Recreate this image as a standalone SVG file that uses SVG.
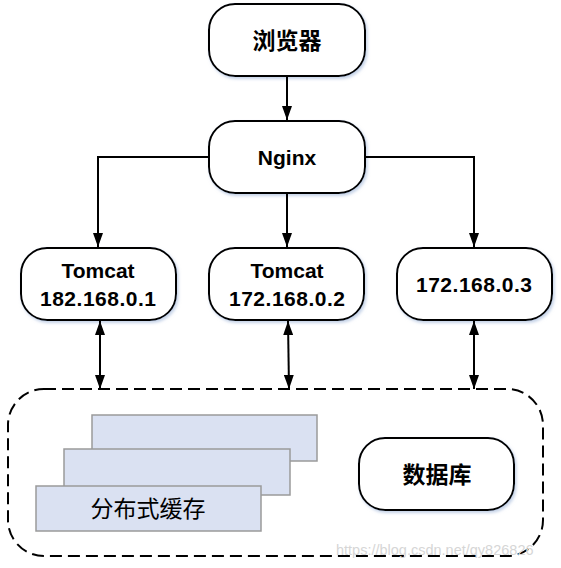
<svg xmlns="http://www.w3.org/2000/svg" width="561" height="568" viewBox="0 0 561 568">
<defs>
<marker id="arr" viewBox="0 0 14 10" refX="14" refY="5" markerWidth="14" markerHeight="10" markerUnits="userSpaceOnUse" orient="auto-start-reverse">
<path d="M0,0 L14,5 L0,10 Z" fill="#000"/>
</marker>
<filter id="sh" x="-10%" y="-10%" width="130%" height="130%">
<feDropShadow dx="1.5" dy="2" stdDeviation="1.5" flood-color="#9db4d8" flood-opacity="0.6"/>
</filter>
</defs>
<style>
.node{fill:#fff;stroke:#000;stroke-width:2;filter:url(#sh)}
.lbl{font-family:"Liberation Sans","Noto Sans CJK SC",sans-serif;font-weight:bold;font-size:21px;fill:#000;text-anchor:middle}
.cjk{font-family:"Noto Sans CJK SC","Liberation Sans",sans-serif;font-weight:bold;font-size:23px;fill:#000;text-anchor:middle}
.cache{fill:#dae1f2;stroke:#9a9a9a;stroke-width:1.5}
.conn{fill:none;stroke:#000;stroke-width:2}
</style>
<rect x="0" y="0" width="561" height="568" fill="#fff"/>

<g id="container">
<rect x="8" y="389" width="535" height="167" rx="36" ry="36" fill="none" stroke="#000" stroke-width="2" stroke-dasharray="12,6"/>
</g>

<g id="browser">
<rect class="node" x="209" y="4" width="156" height="72" rx="26"/>
<text class="cjk" x="287" y="49">浏览器</text>
</g>
<g id="nginx">
<rect class="node" x="209" y="121" width="156" height="72" rx="26"/>
<text class="lbl" x="287" y="165">Nginx</text>
</g>
<g id="tomcat1">
<rect class="node" x="21" y="248" width="155" height="72" rx="26"/>
<text class="lbl" x="98" y="278">Tomcat</text>
<text class="lbl" x="98" y="306" textLength="116">182.168.0.1</text>
</g>
<g id="tomcat2">
<rect class="node" x="209" y="248" width="155" height="72" rx="26"/>
<text class="lbl" x="287" y="278">Tomcat</text>
<text class="lbl" x="287" y="306" textLength="116">172.168.0.2</text>
</g>
<g id="server3">
<rect class="node" x="397" y="248" width="155" height="72" rx="26"/>
<text class="lbl" x="474" y="292" textLength="116">172.168.0.3</text>
</g>

<g id="cache">
<rect class="cache" x="92" y="415" width="225" height="46"/>
<rect class="cache" x="64" y="449" width="226" height="46"/>
<rect class="cache" x="36" y="486" width="225" height="45"/>
<text x="148" y="517" font-family="Noto Sans CJK SC,sans-serif" font-size="23" text-anchor="middle" fill="#000">分布式缓存</text>
</g>

<g id="database">
<rect class="node" x="359" y="438" width="155" height="72" rx="26"/>
<text class="cjk" x="437" y="483">数据库</text>
</g>

<g id="connectors">
<line class="conn" x1="287" y1="76" x2="287" y2="120" marker-end="url(#arr)"/>
<path class="conn" d="M209,157 H98 V247" marker-end="url(#arr)"/>
<line class="conn" x1="287" y1="193" x2="287" y2="247" marker-end="url(#arr)"/>
<path class="conn" d="M365,157 H474 V247" marker-end="url(#arr)"/>
<line class="conn" x1="100" y1="321" x2="100" y2="389" marker-start="url(#arr)" marker-end="url(#arr)"/>
<line class="conn" x1="288" y1="321" x2="289" y2="389" marker-start="url(#arr)" marker-end="url(#arr)"/>
<line class="conn" x1="474" y1="321" x2="474" y2="389" marker-start="url(#arr)" marker-end="url(#arr)"/>
</g>

<text x="336" y="555" font-family="Liberation Sans,sans-serif" font-size="14.5" fill="#d6d6d6">https://blog.csdn.net/qy826826</text>
</svg>
